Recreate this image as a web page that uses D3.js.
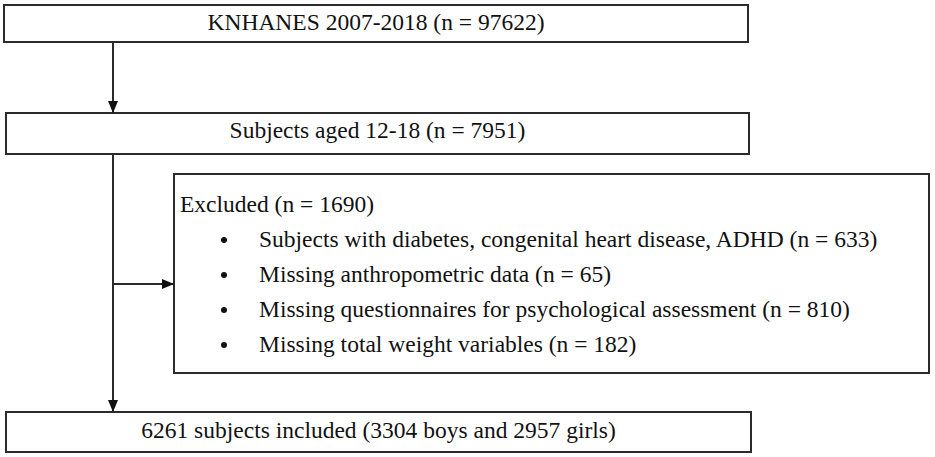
<!DOCTYPE html>
<html>
<head>
<meta charset="utf-8">
<script src="https://cdn.jsdelivr.net/npm/d3@7"></script>
<style>
  body { margin: 0; background: #fff; }
  text { font-family: "Liberation Serif", "Times New Roman", serif; fill: #111; }
</style>
</head>
<body>
<svg id="flow" width="935" height="457"></svg>
<script>
// flow stages (main column)
const stageLabels = [
  "KNHANES 2007-2018 (n = 97622)",
  "Subjects aged 12-18 (n = 7951)",
  "6261 subjects included (3304 boys and 2957 girls)",
];

// exclusions
const excludedTitle = "Excluded (n = 1690)";
const excludedReasons = [
  "Subjects with diabetes, congenital heart disease, ADHD",
  "Missing anthropometric data",
  "Missing questionnaires for psychological assessment",
  "Missing total weight variables",
];
const excludedCounts = [633, 65, 810, 182];

const svg = d3.select("#flow");
const stroke = "#2b2b2b";
const fontSize = 23.5;

svg.append("defs")
  .append("marker")
  .attr("id", "arrow")
  .attr("viewBox", "0 0 12 10")
  .attr("refX", 12)
  .attr("refY", 5)
  .attr("markerWidth", 12)
  .attr("markerHeight", 10)
  .attr("markerUnits", "userSpaceOnUse")
  .attr("orient", "auto")
  .append("path")
  .attr("d", "M0,0 L12,5 L0,10 Z")
  .attr("fill", "#111");

// box geometry for the main stages
const stageBoxes = [
  { x: 4, y: 5, w: 744, h: 37, base: 30 },
  { x: 6, y: 113, w: 743, h: 41, base: 138 },
  { x: 6, y: 412, w: 745, h: 40, base: 438 },
];
const exBox = { x: 174, y: 174, w: 755, h: 199 };
const spineX = 113;

svg.selectAll(".stageBox")
  .data(stageBoxes)
  .enter()
  .append("rect")
  .attr("class", "stageBox")
  .attr("x", (d) => d.x)
  .attr("y", (d) => d.y)
  .attr("width", (d) => d.w)
  .attr("height", (d) => d.h)
  .attr("fill", "none")
  .attr("stroke", stroke)
  .attr("stroke-width", 2);

svg.selectAll(".stageLabel")
  .data(stageLabels)
  .enter()
  .append("text")
  .attr("class", "stageLabel")
  .attr("x", (d, i) => stageBoxes[i].x + stageBoxes[i].w / 2)
  .attr("y", (d, i) => stageBoxes[i].base)
  .attr("text-anchor", "middle")
  .attr("font-size", fontSize)
  .text((d) => d);

// excluded box
svg.append("rect")
  .attr("x", exBox.x)
  .attr("y", exBox.y)
  .attr("width", exBox.w)
  .attr("height", exBox.h)
  .attr("fill", "none")
  .attr("stroke", stroke)
  .attr("stroke-width", 2);

const lineY = d3.scaleLinear().domain([0, 1]).range([212, 247]);

svg.append("text")
  .attr("x", 180)
  .attr("y", lineY(0))
  .attr("font-size", fontSize)
  .text(excludedTitle);

const items = svg.selectAll(".reason")
  .data(excludedReasons)
  .enter()
  .append("g")
  .attr("class", "reason")
  .attr("transform", (d, i) => `translate(0,${lineY(i + 1)})`);

items.append("circle")
  .attr("cx", 224)
  .attr("cy", -7)
  .attr("r", 3)
  .attr("fill", "#111");

items.append("text")
  .attr("x", 259)
  .attr("font-size", fontSize)
  .text((d, i) => `${d} (n = ${excludedCounts[i]})`);

// connectors
const connectors = [
  { x1: spineX, y1: stageBoxes[0].y + stageBoxes[0].h, x2: spineX, y2: stageBoxes[1].y },
  { x1: spineX, y1: stageBoxes[1].y + stageBoxes[1].h, x2: spineX, y2: stageBoxes[2].y },
  { x1: spineX, y1: 284, x2: exBox.x, y2: 284 },
];

svg.selectAll(".connector")
  .data(connectors)
  .enter()
  .append("line")
  .attr("class", "connector")
  .attr("x1", (d) => d.x1)
  .attr("y1", (d) => d.y1)
  .attr("x2", (d) => d.x2)
  .attr("y2", (d) => d.y2)
  .attr("stroke", stroke)
  .attr("stroke-width", 2)
  .attr("marker-end", "url(#arrow)");
</script>
</body>
</html>
